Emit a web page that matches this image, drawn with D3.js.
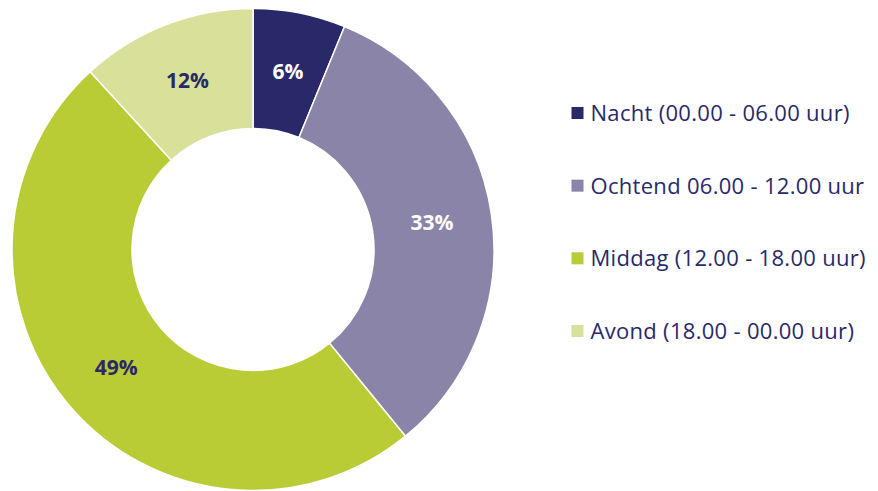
<!DOCTYPE html>
<html><head><meta charset="utf-8">
<script src="https://cdn.jsdelivr.net/npm/d3@7"></script>
<style>body{margin:0;background:#fff}</style>
</head><body>
<svg id="c" width="878" height="491"></svg>
<script>
const categories = ["Nacht (00.00 - 06.00 uur)", "Ochtend 06.00 - 12.00 uur", "Middag (12.00 - 18.00 uur)", "Avond (18.00 - 00.00 uur)"];
const values = [6.2, 32.9, 49.1, 11.8];
const labels = ["6%", "33%", "49%", "12%"];
const colors = ["#29296a", "#8a84a8", "#b9cb35", "#d8e09a"];
const labelColors = ["#ffffff", "#ffffff", "#29296a", "#29296a"];

const svg = d3.select("#c");
const cx = 253, cy = 249.5, R = 241, r = 121;
const g = svg.append("g").attr("transform", `translate(${cx},${cy})`);
const pie = d3.pie().sort(null).value(d => d)(values);
const arc = d3.arc().innerRadius(r).outerRadius(R);
g.selectAll("path").data(pie).join("path")
  .attr("d", arc).attr("fill", (d,i) => colors[i])
  .attr("stroke", "#fff").attr("stroke-width", 1.5);
g.selectAll("text").data(pie).join("text")
  .attr("transform", d => `translate(${arc.centroid(d)})`)
  .attr("text-anchor", "middle").attr("dy", "0.36em")
  .attr("font-family", "'Open Sans', sans-serif").attr("font-weight", "bold")
  .attr("font-size", 21).attr("fill", (d,i) => labelColors[i])
  .text((d,i) => labels[i]);

const y = d3.scalePoint().domain(categories).range([113, 331]);
const lg = svg.append("g");
const items = lg.selectAll("g").data(categories).join("g")
  .attr("transform", d => `translate(571.5,${y(d)})`);
items.append("rect").attr("x", 0).attr("y", -6).attr("width", 12).attr("height", 12)
  .attr("fill", (d,i) => colors[i]);
items.append("text").attr("x", 19).attr("dy", "0.36em")
  .attr("font-family", "'Open Sans', sans-serif").attr("font-size", 22)
  .attr("letter-spacing", 0.3)
  .attr("fill", "#29296a").text(d => d);
</script>
</body></html>
